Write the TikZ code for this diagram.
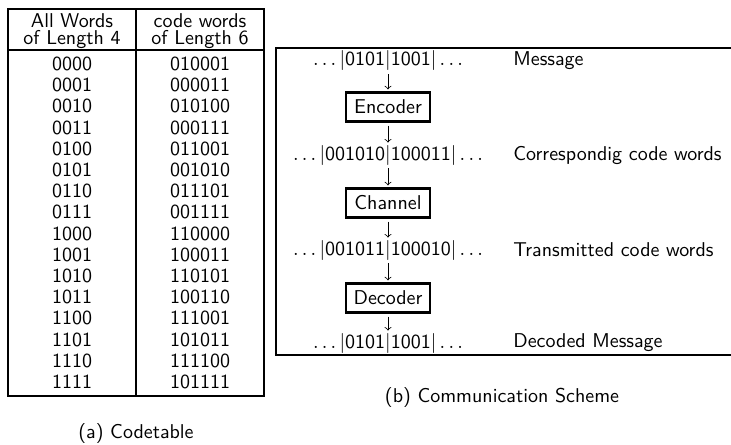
\documentclass[tikz,border=0pt]{standalone}
\renewcommand{\familydefault}{\sfdefault}
\begin{document}
\begin{tikzpicture}[x=0.5pt,y=-0.5pt,
		cell/.style={inner sep=0pt,font=\sffamily},
		block/.style={draw,line width=1.1pt,minimum width=42pt,minimum height=14.5pt,inner sep=0pt},
		flow/.style={-to,line width=0.4pt,shorten <=1.5pt,shorten >=1pt}]
			\useasboundingbox (0,0) rectangle (731,444);
			\draw[line width=0.9pt] (8,9) rectangle (264,396);
			\draw[line width=0.9pt] (136,9) -- (136,396);
			\draw[line width=0.9pt] (8,50) -- (264,50);
			\node[cell] (head1a) at (72,21) {All Words};
			\node[cell] (head1b) at (72,40) {of Length 4};
			\node[cell] (head2a) at (200,21) {code words};
			\node[cell] (head2b) at (200,40) {of Length 6};
			\node[cell] (w0) at (72,64) {0000};    \node[cell] (c0) at (200,64) {010001};
			\node[cell] (w1) at (72,85.2) {0001};  \node[cell] (c1) at (200,85.2) {000011};
			\node[cell] (w2) at (72,106.4) {0010}; \node[cell] (c2) at (200,106.4) {010100};
			\node[cell] (w3) at (72,127.6) {0011}; \node[cell] (c3) at (200,127.6) {000111};
			\node[cell] (w4) at (72,148.8) {0100}; \node[cell] (c4) at (200,148.8) {011001};
			\node[cell] (w5) at (72,170) {0101};   \node[cell] (c5) at (200,170) {001010};
			\node[cell] (w6) at (72,191.2) {0110}; \node[cell] (c6) at (200,191.2) {011101};
			\node[cell] (w7) at (72,212.4) {0111}; \node[cell] (c7) at (200,212.4) {001111};
			\node[cell] (w8) at (72,233.6) {1000}; \node[cell] (c8) at (200,233.6) {110000};
			\node[cell] (w9) at (72,254.8) {1001}; \node[cell] (c9) at (200,254.8) {100011};
			\node[cell] (w10) at (72,276) {1010};  \node[cell] (c10) at (200,276) {110101};
			\node[cell] (w11) at (72,297.2) {1011}; \node[cell] (c11) at (200,297.2) {100110};
			\node[cell] (w12) at (72,318.4) {1100}; \node[cell] (c12) at (200,318.4) {111001};
			\node[cell] (w13) at (72,339.6) {1101}; \node[cell] (c13) at (200,339.6) {101011};
			\node[cell] (w14) at (72,360.8) {1110}; \node[cell] (c14) at (200,360.8) {111100};
			\node[cell] (w15) at (72,382) {1111};   \node[cell] (c15) at (200,382) {101111};
			\node[cell] (capa) at (136,433) {(a) Codetable};
			\draw[line width=0.9pt] (731,48) -- (276,48) -- (276,355) -- (731,355);
			\node[cell] (msg) at (388,61) {$\ldots|$0101$|$1001$|\ldots$};
			\node[block] (enc) at (388,107) {Encoder};
			\node[cell] (cw) at (388,155) {$\ldots|$001010$|$100011$|\ldots$};
			\node[block] (chan) at (388,203) {Channel};
			\node[cell] (tx) at (388,250) {$\ldots|$001011$|$100010$|\ldots$};
			\node[block] (dec) at (388,298) {Decoder};
			\node[cell] (out) at (388,343) {$\ldots|$0101$|$1001$|\ldots$};
			\node[cell,anchor=west] (lmsg) at (513,61) {Message};
			\node[cell,anchor=west] (lcw) at (513,155) {Correspondig code words};
			\node[cell,anchor=west] (ltx) at (513,250) {Transmitted code words};
			\node[cell,anchor=west] (lout) at (513,343) {Decoded Message};
			\draw[flow] (msg) -- (enc);
			\draw[flow] (enc) -- (cw);
			\draw[flow] (cw) -- (chan);
			\draw[flow] (chan) -- (tx);
			\draw[flow] (tx) -- (dec);
			\draw[flow] (dec) -- (out);
			\node[cell] (capb) at (502,397) {(b) Communication Scheme};
		\end{tikzpicture}
\end{document}
